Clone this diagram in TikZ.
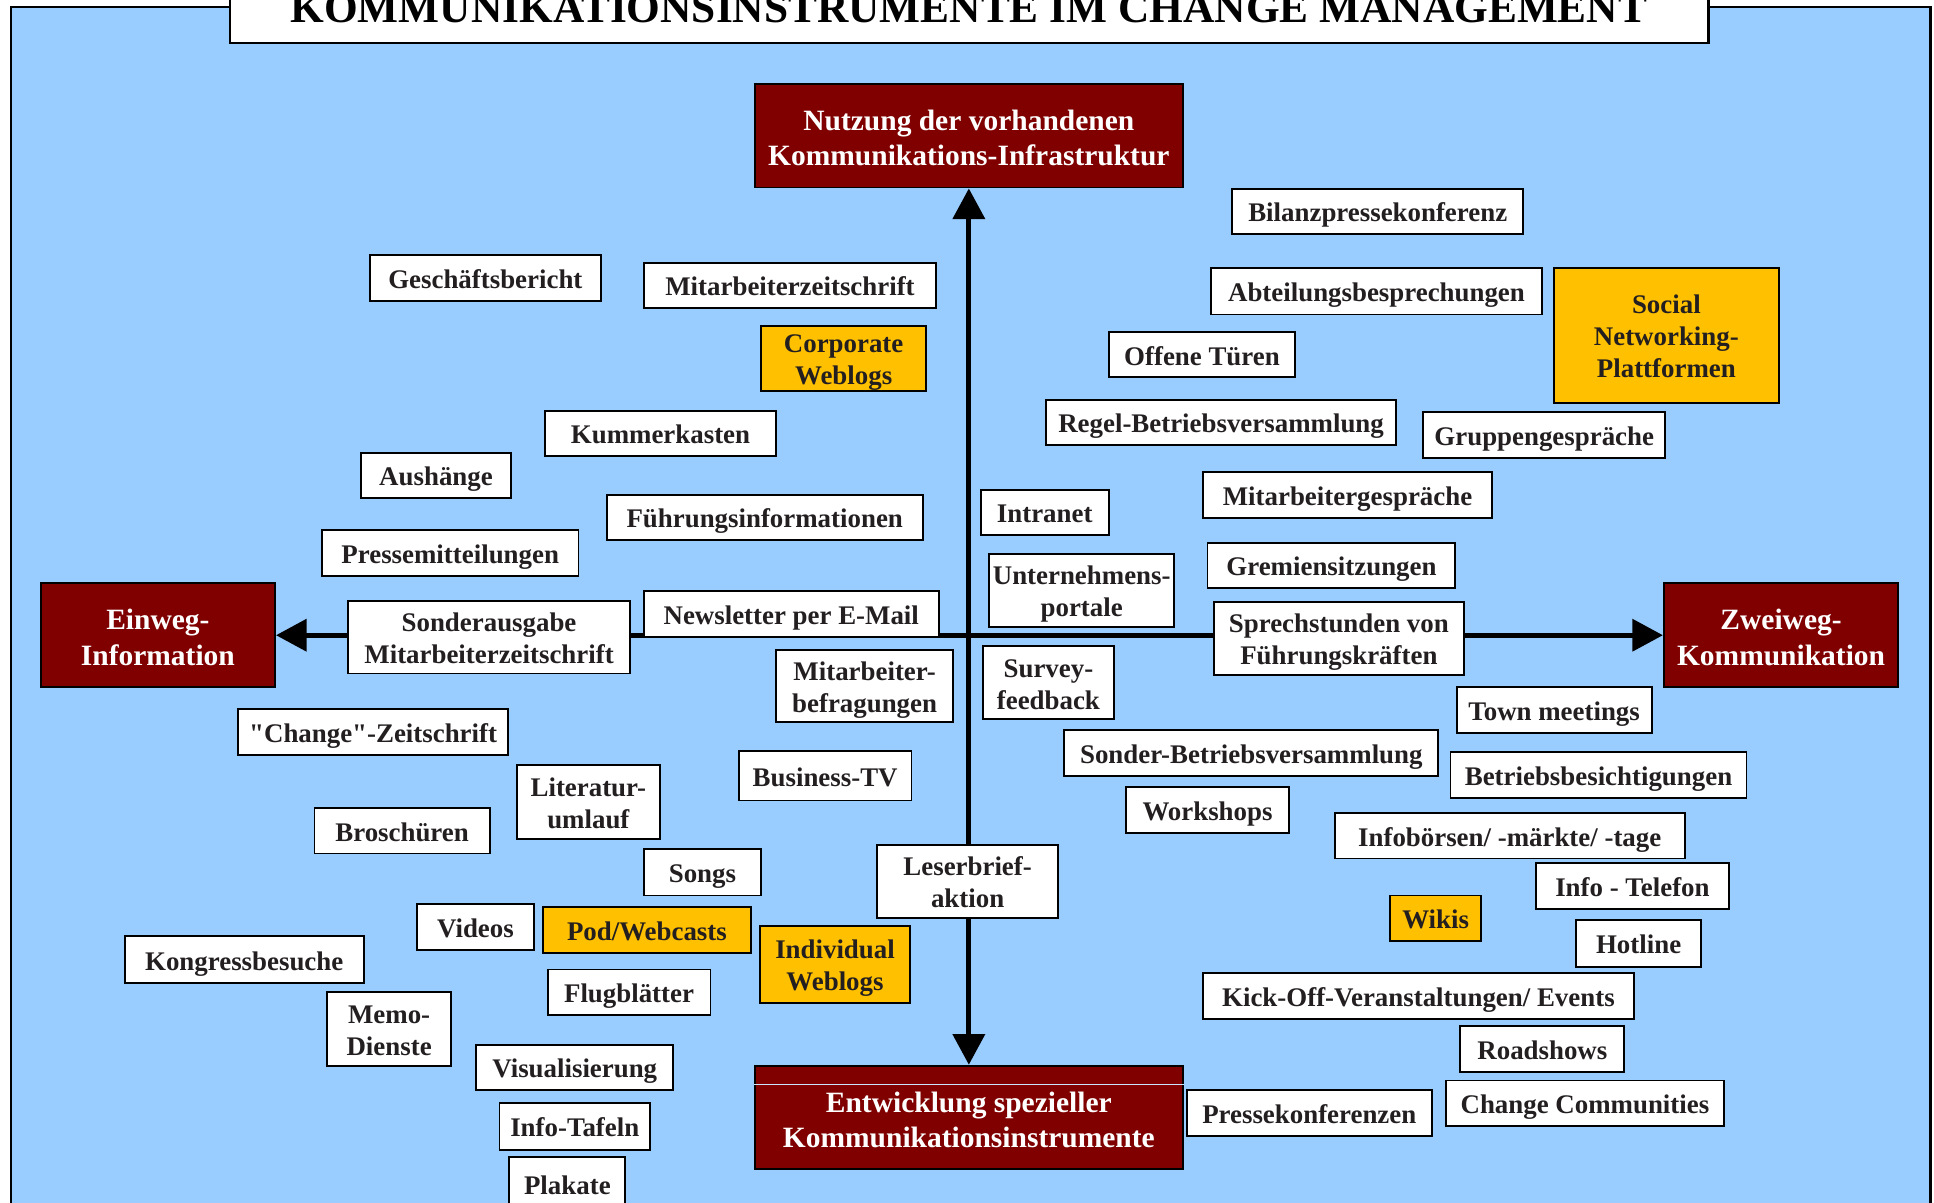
\documentclass[tikz,border=0pt]{standalone}
\usepackage{fontspec}
\setmainfont{Liberation Serif}
\usetikzlibrary{arrows.meta,positioning}
\definecolor{panelblue}{HTML}{99CCFF}
\definecolor{headred}{HTML}{800000}
\definecolor{weborange}{HTML}{FFC000}
\definecolor{inktext}{HTML}{231F20}

\begin{document}
\begin{tikzpicture}[x=0.025cm, y=-0.025cm, >={Triangle[length=0.62cm,width=0.64cm]},
	bw/.style={minimum width=#1*0.025cm},
	bh/.style={minimum height=#1*0.025cm},
	instbox/.style={draw=black, line width=1.1pt, fill=white, text=inktext, align=center, inner xsep=2pt, inner ysep=0pt, text height=12pt, text depth=0pt, bh=37, font=\fontsize{15.5}{18.5}\selectfont\bfseries},
	twoline/.style={text height=30.5pt},
	threeline/.style={text height=49pt},
	webbox/.style={instbox, fill=weborange},
	headbox/.style={draw=black, line width=1.1pt, fill=headred, text=white, align=center, inner sep=2pt, text height=34.9pt, text depth=0pt, bw=190, bh=84, font=\fontsize{17}{20.5}\selectfont\bfseries}]
		\useasboundingbox (0,0) rectangle (1568,975);
		\clip (0,0) rectangle (1568,975);
		\draw [fill=panelblue, line width=1.4pt] (9,5.5) rectangle (1565,1000);
		\draw [fill=white, line width=1.4pt] (186.5,-40) rectangle (1385,35);
		\node (title) at (785.5,18.5) [anchor=base, inner sep=0pt, font=\fontsize{25}{30}\selectfont\bfseries] {KOMMUNIKATIONSINSTRUMENTE IM CHANGE MANAGEMENT};

		% Achsen
		\node (nutz) at (785.5,110) [headbox, bw=347] {Nutzung der vorhandenen\\Kommunikations-Infrastruktur};
		\node (entw) at (785.5,906) [headbox, bw=347] {Entwicklung spezieller\\Kommunikationsinstrumente};
		\node (einw) at (128,515) [headbox] {Einweg-\\Information};
		\node (zwei) at (1444,515) [headbox] {Zweiweg-\\Kommunikation};
		\draw [panelblue!50!white, line width=0.5pt] ([yshift=-0.4cm]entw.north west) -- ([yshift=-0.4cm]entw.north east);
		\draw [<->, line width=0.1cm] (nutz.south) -- (entw.north);
		\draw [<->, line width=0.1cm] (einw.east) -- (zwei.west);

		% oben links
		\node (gesch) at (393.5,225.5) [instbox, bw=187] {Geschäftsbericht};
		\node (mazs) at (640.5,231.5) [instbox, bw=237] {Mitarbeiterzeitschrift};
		\node (corpw) at (684,290.5) [webbox, twoline, bw=134, bh=53] {Corporate\\Weblogs};
		\node (kumm) at (535.5,351.5) [instbox, bw=187] {Kummerkasten};
		\node (aush) at (353.5,385.5) [instbox, bw=121] {Aushänge};
		\node (fuehr) at (620,419.5) [instbox, bw=256] {Führungsinformationen};
		\node (presse) at (365,448.5) [instbox, bw=208] {Pressemitteilungen};
		\node (sond) at (396.5,516.5) [instbox, twoline, bw=229, bh=59] {Sonderausgabe\\Mitarbeiterzeitschrift};
		\node (newsl) at (641.5,497.5) [instbox, bw=239] {Newsletter per E-Mail};
		\node (intra) at (847,415.5) [instbox, bw=104] {Intranet};
		\node (unter) at (877,478.5) [instbox, twoline, bw=146, bh=59] {Unternehmens-\\portale};

		% oben rechts
		\node (bilanz) at (1117,171.5) [instbox, bw=236] {Bilanzpressekonferenz};
		\node (abteil) at (1116,236) [instbox, bw=268, bh=38] {Abteilungsbesprechungen};
		\node (social) at (1351,272) [webbox, threeline, bw=182, bh=110] {Social\\Networking-\\Plattformen};
		\node (offen) at (974.5,287.5) [instbox, bw=151] {Offene Türen};
		\node (regel) at (990,342.5) [instbox, bw=284] {Regel-Betriebsversammlung};
		\node (gruppe) at (1252,352.5) [instbox, bw=196] {Gruppengespräche};
		\node (magespr) at (1092.5,401.5) [instbox, bw=235] {Mitarbeitergespräche};
		\node (gremien) at (1079.5,458.5) [instbox, bw=201] {Gremiensitzungen};
		\node (sprech) at (1085.5,517.5) [instbox, twoline, bw=203, bh=59] {Sprechstunden von\\Führungskräften};

		% unten rechts
		\node (town) at (1260,575.5) [instbox, bw=158] {Town meetings};
		\node (sonderbv) at (1014.5,610.5) [instbox, bw=303] {Sonder-Betriebsversammlung};
		\node (betrb) at (1296,628.5) [instbox, bw=240] {Betriebsbesichtigungen};
		\node (works) at (979,656.5) [instbox, bw=132] {Workshops};
		\node (infob) at (1224,677.5) [instbox, bw=284] {Infobörsen/ -märkte/ -tage};
		\node (infotel) at (1323.5,718.5) [instbox, bw=157] {Info - Telefon};
		\node (wikis) at (1164,744.5) [webbox, bw=74] {Wikis};
		\node (hotl) at (1328.5,765) [instbox, bw=101, bh=38] {Hotline};
		\node (kickoff) at (1150,807.5) [instbox, bw=350] {Kick-Off-Veranstaltungen/ Events};
		\node (roads) at (1250.5,850.5) [instbox, bw=133] {Roadshows};
		\node (changec) at (1285,894.5) [instbox, bw=226] {Change Communities};
		\node (pressek) at (1061.5,902.5) [instbox, bw=199] {Pressekonferenzen};

		% unten links
		\node (mabefr) at (701,556) [instbox, twoline, bw=144, bh=58] {Mitarbeiter-\\befragungen};
		\node (survey) at (850,553.5) [instbox, twoline, bw=106, bh=59] {Survey-\\feedback};
		\node (changez) at (302.5,593.5) [instbox, bw=219] {\textquotedbl Change\textquotedbl -Zeitschrift};
		\node (btv) at (669,629) [instbox, bw=140, bh=40] {Business-TV};
		\node (litum) at (477,650) [instbox, twoline, bw=116, bh=60] {Literatur-\\umlauf};
		\node (brosch) at (326,673.5) [instbox, bw=142] {Broschüren};
		\node (songs) at (569.5,707) [instbox, bw=95, bh=38] {Songs};
		\node (leserb) at (784.5,714.5) [instbox, twoline, bw=147, bh=59] {Leserbrief-\\aktion};
		\node (videos) at (385.5,751.5) [instbox, bw=95] {Videos};
		\node (podw) at (524.5,754) [webbox, bw=169, bh=38] {Pod/Webcasts};
		\node (indivw) at (677,782) [webbox, twoline, bw=122, bh=62] {Individual\\Weblogs};
		\node (kongr) at (198,778) [instbox, bw=194, bh=38] {Kongressbesuche};
		\node (flugb) at (510,804.5) [instbox, bw=132] {Flugblätter};
		\node (memo) at (315.5,834) [instbox, twoline, bw=101, bh=60] {Memo-\\Dienste};
		\node (visual) at (466,865.5) [instbox, bw=160] {Visualisierung};
		\node (infotaf) at (466,913) [instbox, bw=122, bh=38] {Info-Tafeln};
		\node (plakate) at (460,960) [instbox, bw=94, bh=44] {Plakate};
	\end{tikzpicture}
\end{document}
